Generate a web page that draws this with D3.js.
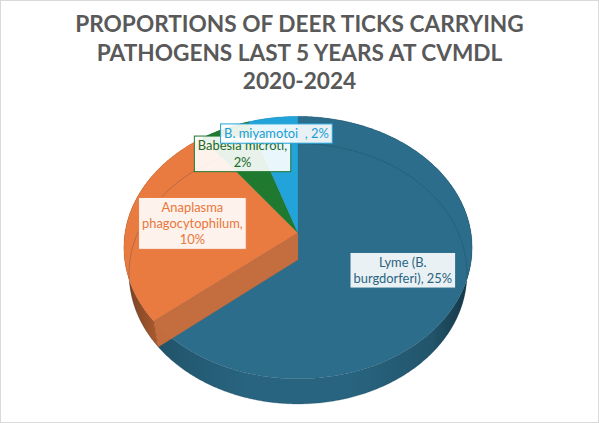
<!DOCTYPE html>
<html>
<head>
<meta charset="utf-8">
<title>Deer ticks carrying pathogens</title>
<style>
  body { margin: 0; background: #fff; }
  svg text { font-family: Lato, "Liberation Sans", sans-serif; }
</style>
</head>
<body>
<div id="chart"></div>
<script src="https://cdnjs.cloudflare.com/ajax/libs/d3/7.8.5/d3.min.js"></script>
<script>
var titleLines = ['PROPORTIONS OF DEER TICKS CARRYING', 'PATHOGENS LAST 5 YEARS AT CVMDL', '2020-2024'];
var categories = ['Lyme (B. burgdorferi)', 'Anaplasma phagocytophilum', 'Babesia microti', 'B. miyamotoi  '];
var values = [25, 10, 2, 2];
var colors = ['#2c6d8b', '#e97b41', '#1f7a30', '#22a3d9'];
var textColors = ['#2a6482', '#e8773b', '#1c6b27', '#1b9fd6'];

// layout
var cfg = {
  w: 599, h: 423,
  cx: 298, cy: 233,     // centre of the top face
  K: 173,               // radius in px
  elev: Math.asin(0.749),
  dist: 5.96,
  depth: 0.24
}
var labelRadius = [0.65, 0.62, 0.74, 0.85];
var wrapWidth = [112, 108, 100, 220];

var se = Math.sin(cfg.elev), ce = Math.cos(cfg.elev);

// 3d pie point -> screen (theta clockwise from 12 o'clock)
var proj = function(theta, r, y) {
  var x = r * Math.sin(theta), z = -r * Math.cos(theta);
  var u = y * ce - z * se;
  var w = y * se + z * ce;
  var s = cfg.dist / (cfg.dist - w);
  return [cfg.cx + cfg.K * s * x, cfg.cy - cfg.K * s * u];
}

var rim = function(a0, a1, y) {
  var n = Math.max(2, Math.ceil(Math.abs(a1 - a0) / 0.01));
  return d3.range(n + 1).map(function(i) { return proj(a0 + (a1 - a0) * i / n, 1, y) });
}

var pathLine = d3.line().curve(d3.curveLinear);
var polygon = function(pts) { return pathLine(pts) + 'Z' };

var svg = d3.select('#chart').append('svg')
  .attr('width', cfg.w)
  .attr('height', cfg.h);

svg.append('rect')
  .attr('width', cfg.w).attr('height', cfg.h)
  .attr('fill', '#fff');

var defs = svg.append('defs');
var shade = defs.append('linearGradient')
  .attr('id', 'sideShade')
  .attr('gradientUnits', 'userSpaceOnUse')
  .attr('x1', cfg.cx - cfg.K * 1.01).attr('x2', cfg.cx + cfg.K * 1.01)
  .attr('y1', 0).attr('y2', 0);
[[0, 0.45], [0.12, 0.15], [0.35, 0], [0.65, 0], [0.88, 0.15], [1, 0.5]].forEach(function(s) {
  shade.append('stop').attr('offset', s[0]).attr('stop-color', '#000').attr('stop-opacity', s[1]);
});

var pie = d3.pie().sort(null).value(function(v) { return v });
var arcs = pie(values);
var bottomY = -cfg.depth;

// outer sides
var sides = svg.append('g');
arcs.forEach(function(a, i) {
  var pts = rim(a.startAngle, a.endAngle, 0).concat(rim(a.endAngle, a.startAngle, bottomY));
  sides.append('path')
    .attr('d', polygon(pts))
    .attr('fill', d3.color(colors[i]).darker(0.25));
  sides.append('path')
    .attr('d', polygon(pts))
    .attr('fill', 'url(#sideShade)');
});

// top faces
var tops = svg.append('g');
arcs.forEach(function(a, i) {
  var pts = [proj(0, 0, 0)].concat(rim(a.startAngle, a.endAngle, 0));
  tops.append('path')
    .attr('d', polygon(pts))
    .attr('fill', colors[i])
    .attr('stroke', d3.color(colors[i]).darker(0.6))
    .attr('stroke-opacity', 0.5)
    .attr('stroke-width', 0.6);
});

// radial wall of the Anaplasma slice, seen through the Lyme slice
var wa = arcs[1].startAngle;
svg.append('path')
  .attr('d', polygon([proj(wa, 0, 0), proj(wa, 1, 0), proj(wa, 1, bottomY), proj(wa, 0, bottomY)]))
  .attr('fill', d3.color(colors[1]).darker(0.3))
  .attr('fill-opacity', 0.92)
  .attr('stroke', d3.color(colors[1]).darker(0.8))
  .attr('stroke-opacity', 0.4)
  .attr('stroke-width', 0.6);

// faint see-through bottom rim
svg.append('path')
  .attr('d', pathLine(rim(0, 2 * Math.PI, bottomY)))
  .attr('fill', 'none')
  .attr('stroke', '#0e3a50')
  .attr('stroke-opacity', 0.35)
  .attr('stroke-width', 0.7);

// labels
var labels = svg.append('g')
  .style('font-size', '12.9px');

var wrap = function(text, maxW, probe) {
  var words = text.split(/ (?=\S)/), lines = [], cur = '';
  words.forEach(function(wd) {
    var t = cur ? cur + ' ' + wd : wd;
    probe.text(t);
    if (cur && probe.node().getComputedTextLength() > maxW) {
      lines.push(cur);
      cur = wd;
    } else cur = t;
  });
  lines.push(cur);
  return lines;
}

var probe = labels.append('text').style('white-space', 'pre');
var lh = 16.3, padX = 3.5, padY = 1.5;
arcs.forEach(function(a, i) {
  var txt = categories[i] + ', ' + values[i] + '%';
  var lines = wrap(txt, wrapWidth[i], probe);
  var maxW = d3.max(lines, function(l) { probe.text(l); return probe.node().getComputedTextLength() });
  var mid = (a.startAngle + a.endAngle) / 2;
  var c = proj(mid, labelRadius[i], 0);
  var bw = maxW + padX * 2, bh = lines.length * lh + padY * 2;
  var g = labels.append('g');
  g.append('rect')
    .attr('x', c[0] - bw / 2).attr('y', c[1] - bh / 2)
    .attr('width', bw).attr('height', bh)
    .attr('fill', '#fff').attr('fill-opacity', 0.9)
    .attr('stroke', colors[i]).attr('stroke-width', 1);
  g.selectAll('text')
    .data(lines)
    .enter()
    .append('text')
    .style('white-space', 'pre')
    .attr('x', c[0])
    .attr('y', function(l, j) { return c[1] - bh / 2 + padY + lh * (j + 0.5) })
    .attr('dy', '0.35em')
    .attr('text-anchor', 'middle')
    .attr('fill', textColors[i])
    .text(function(l) { return l });
});
probe.remove();

// title
var titleG = svg.append('g')
  .style('font-weight', 'bold')
  .attr('fill', '#595959');
var tprobe = titleG.append('text').style('font-size', '20px').text(titleLines[1]);
var fs = 20 * 406 / tprobe.node().getComputedTextLength();
tprobe.remove();
titleG.selectAll('text')
  .data(titleLines)
  .enter()
  .append('text')
  .attr('x', cfg.w / 2)
  .attr('y', function(t, i) { return 32 + i * 28.5 })
  .attr('text-anchor', 'middle')
  .style('font-size', fs + 'px')
  .text(function(t) { return t });

// chart border
svg.append('rect')
  .attr('x', 0.5).attr('y', 0.5)
  .attr('width', cfg.w - 1).attr('height', cfg.h - 1)
  .attr('fill', 'none')
  .attr('stroke', '#d9d9d9');
</script>
</body>
</html>
